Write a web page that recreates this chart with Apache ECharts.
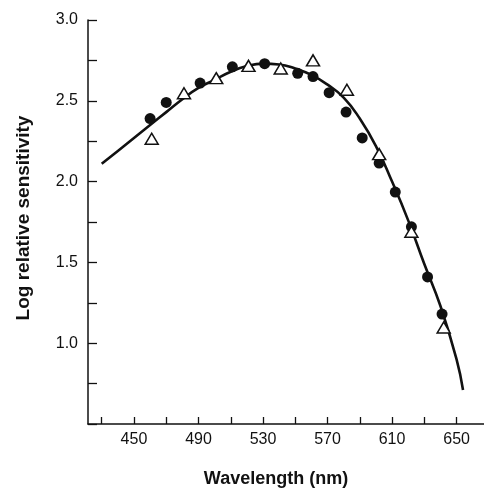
<!DOCTYPE html>
<html>
<head>
<meta charset="utf-8">
<script src="https://cdn.jsdelivr.net/npm/echarts@6/dist/echarts.min.js"></script>
<style>html,body{margin:0;padding:0;background:#fff}#c{width:484px;height:489px}</style>
</head>
<body>
<div id="c"></div>
<script>
// Fitted curve
const curveWl  = [430, 440, 450, 460, 470, 480, 490, 500, 510, 520, 530, 540, 550, 560, 570, 580, 590, 600, 610, 620, 630, 640, 650, 654];
const curveLog = [2.11, 2.19, 2.27, 2.35, 2.43, 2.51, 2.58, 2.63, 2.68, 2.715, 2.73, 2.725, 2.70, 2.66, 2.60, 2.52, 2.39, 2.22, 2.00, 1.76, 1.49, 1.23, 0.90, 0.71];
// Filled circles
const dotWl  = [460, 470, 491, 511, 531, 551.5, 561, 571, 581.5, 591.5, 602, 612, 622, 632, 641];
const dotLog = [2.39, 2.49, 2.61, 2.71, 2.73, 2.67, 2.65, 2.55, 2.43, 2.27, 2.115, 1.935, 1.72, 1.41, 1.18];
// Open triangles
const triWl  = [461, 481, 501, 521, 541, 561, 582, 602, 622, 642];
const triLog = [2.265, 2.547, 2.64, 2.716, 2.70, 2.75, 2.568, 2.17, 1.69, 1.097];
// Axis ticks
const xTicks  = [430, 450, 470, 490, 510, 530, 550, 570, 590, 610, 630, 650];
const xLabels = [450, 490, 530, 570, 610, 650];
const yLabels = [1.0, 1.5, 2.0, 2.5, 3.0];

const pairs = (a, b) => a.map((v, i) => [v, b[i]]);
const ink = '#111';
const chart = echarts.init(document.getElementById('c'), null, {renderer: 'canvas'});
chart.setOption({
  animation: false,
  backgroundColor: '#fff',
  grid: {left: 88, right: 0, top: 20, bottom: 65, containLabel: false, outerBoundsMode: 'none'},
  xAxis: {
    type: 'value', min: 421.5, max: 667,
    name: 'Wavelength (nm)', nameLocation: 'middle', nameGap: 46,
    nameTextStyle: {fontFamily: 'Liberation Sans', fontWeight: 'bold', fontSize: 18, color: ink, padding: [0, 20, 0, 0]},
    axisLine: {lineStyle: {color: ink, width: 1.5}},
    axisTick: {inside: true, length: 7, customValues: xTicks, lineStyle: {color: ink, width: 1.3}},
    axisLabel: {customValues: xLabels, margin: 8, fontFamily: 'Liberation Sans', fontSize: 16, color: ink},
    splitLine: {show: false}
  },
  yAxis: {
    type: 'value', min: 0.5, max: 3.0, interval: 0.25,
    name: 'Log relative sensitivity', nameLocation: 'middle', nameGap: 55,
    nameTextStyle: {fontFamily: 'Liberation Sans', fontWeight: 'bold', fontSize: 19, color: ink, padding: [0, 0, 0, 8]},
    axisLine: {lineStyle: {color: ink, width: 1.5}},
    axisTick: {inside: true, length: 9, lineStyle: {color: ink, width: 1.3}},
    axisLabel: {
      margin: 10, fontFamily: 'Liberation Sans', fontSize: 16, color: ink,
      formatter: v => yLabels.some(l => Math.abs(l - v) < 1e-6) ? v.toFixed(1) : ''
    },
    splitLine: {show: false}
  },
  series: [
    {type: 'line', data: pairs(curveWl, curveLog), smooth: 0.5, showSymbol: false,
     lineStyle: {color: ink, width: 2.6}, z: 2},
    {type: 'scatter', data: pairs(dotWl, dotLog), symbol: 'circle', symbolSize: 11,
     itemStyle: {color: ink, opacity: 1}, z: 3},
    {type: 'scatter', data: pairs(triWl, triLog), symbol: 'triangle', symbolSize: [13, 11],
     itemStyle: {color: '#fff', borderColor: ink, borderWidth: 1.5, opacity: 1}, z: 4}
  ]
});
</script>
</body>
</html>
